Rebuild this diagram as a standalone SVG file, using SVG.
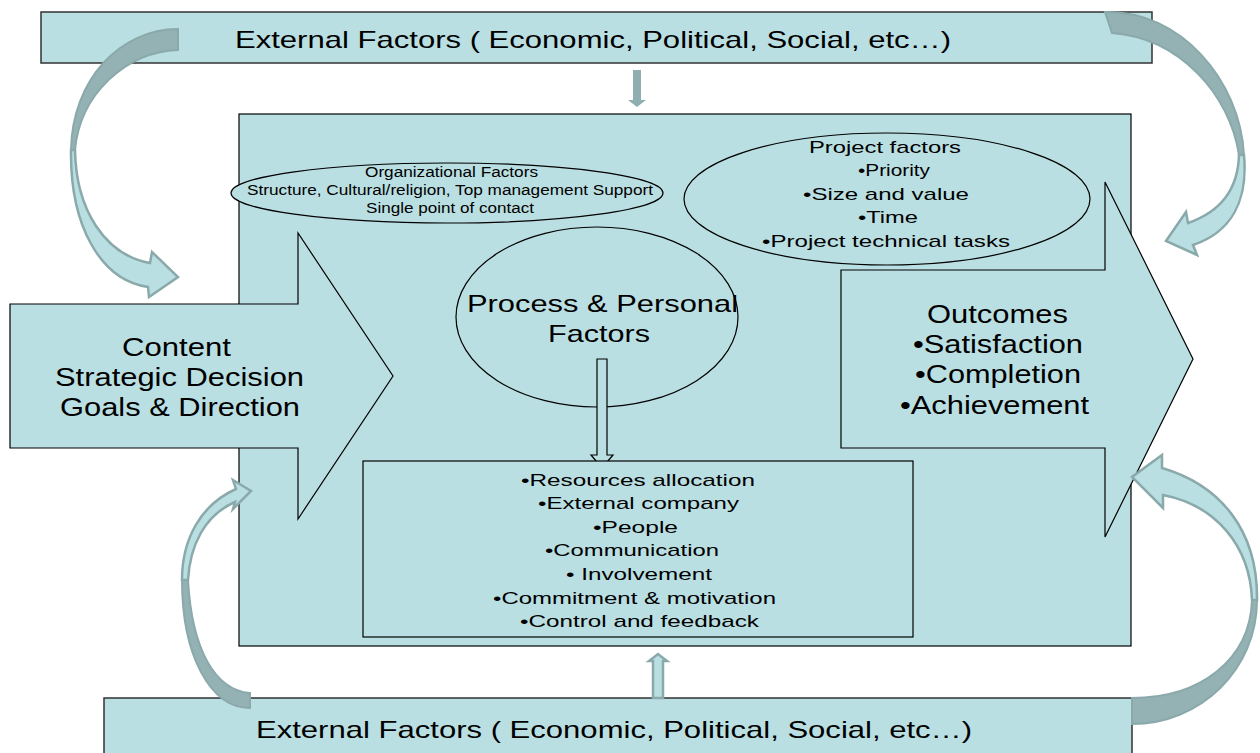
<svg xmlns="http://www.w3.org/2000/svg" width="1260" height="753" viewBox="0 0 1260 753">
<style>
.box{fill:#badfe2;stroke:#000;stroke-width:1.2}
.ext{fill:#badfe2;stroke:#333;stroke-width:1.5}
.t{font-family:"Liberation Sans",Arial,sans-serif;fill:#000}
.cdark{fill:#94b1b3;stroke:#8aa9ab;stroke-width:2}
.clight{fill:#badfe2;stroke:#8aa9ab;stroke-width:2.5;stroke-linejoin:miter}
</style>
<rect width="1260" height="753" fill="#fff"/>
<g id="external-top">
<rect class="ext" x="41" y="12" width="1111" height="51"/>
<text class="t" x="235" y="48" font-size="24" textLength="716" lengthAdjust="spacingAndGlyphs">External Factors ( Economic, Political, Social, etc…)</text>
</g>
<g id="external-bottom">
<rect class="ext" x="104" y="698" width="1028" height="70"/>
<text class="t" x="256" y="738" font-size="24" textLength="716" lengthAdjust="spacingAndGlyphs">External Factors ( Economic, Political, Social, etc…)</text>
</g>
<g id="main-box">
<rect class="box" x="239" y="114" width="892" height="532"/>
</g>
<g id="organizational-factors">
<ellipse class="box" cx="447" cy="193" rx="216" ry="30"/>
<text class="t" x="365" y="177" font-size="14" textLength="173" lengthAdjust="spacingAndGlyphs">Organizational Factors</text>
<text class="t" x="247" y="195" font-size="14" textLength="406" lengthAdjust="spacingAndGlyphs">Structure, Cultural/religion, Top management Support</text>
<text class="t" x="366" y="213" font-size="14" textLength="168" lengthAdjust="spacingAndGlyphs">Single point of contact</text>
</g>
<g id="project-factors">
<ellipse class="box" cx="887" cy="199" rx="203" ry="66"/>
<text class="t" x="809" y="153" font-size="17" textLength="152" lengthAdjust="spacingAndGlyphs">Project factors</text>
<text class="t" x="858" y="176" font-size="17" textLength="72" lengthAdjust="spacingAndGlyphs">•Priority</text>
<text class="t" x="803" y="200" font-size="17" textLength="166" lengthAdjust="spacingAndGlyphs">•Size and value</text>
<text class="t" x="858" y="223" font-size="17" textLength="60" lengthAdjust="spacingAndGlyphs">•Time</text>
<text class="t" x="762" y="247" font-size="17" textLength="248" lengthAdjust="spacingAndGlyphs">•Project technical tasks</text>
</g>
<g id="content">
<polygon class="box" points="10,304 298,304 298,233 393,376 298,519 298,448 10,448"/>
<text class="t" x="122" y="356" font-size="25" textLength="109" lengthAdjust="spacingAndGlyphs">Content</text>
<text class="t" x="55" y="386" font-size="25" textLength="249" lengthAdjust="spacingAndGlyphs">Strategic Decision</text>
<text class="t" x="60" y="416" font-size="25" textLength="240" lengthAdjust="spacingAndGlyphs">Goals &amp; Direction</text>
</g>
<g id="outcomes">
<polygon class="box" points="841,270 1105,270 1105,182 1193,359 1105,537 1105,448 841,448"/>
<text class="t" x="927" y="323" font-size="25" textLength="141" lengthAdjust="spacingAndGlyphs">Outcomes</text>
<text class="t" x="913" y="353" font-size="25" textLength="170" lengthAdjust="spacingAndGlyphs">•Satisfaction</text>
<text class="t" x="915" y="383" font-size="25" textLength="166" lengthAdjust="spacingAndGlyphs">•Completion</text>
<text class="t" x="900" y="414" font-size="25" textLength="189" lengthAdjust="spacingAndGlyphs">•Achievement</text>
</g>
<g id="process-personal">
<ellipse class="box" cx="597" cy="317" rx="141" ry="90"/>
<text class="t" x="467" y="312" font-size="24" textLength="271" lengthAdjust="spacingAndGlyphs">Process &amp; Personal</text>
<text class="t" x="548" y="342" font-size="24" textLength="102" lengthAdjust="spacingAndGlyphs">Factors</text>
</g>
<g id="connectors">
<polygon class="box" points="597,359 607,359 607,455 613,455 602,468 591,455 597,455"/>
<polygon fill="#8eaeb0" points="633,70 641,70 641,100 646,100 637,107 628,100 633,100"/>
<polygon fill="#badfe2" stroke="#8aa9ab" stroke-width="2.5" points="653,698 653,661 649,661 658,654 667,661 663,661 663,698"/>
<path class="cdark" d="M178,29 C120,29 72,80 71,150 L75,150 C80,95 125,52 178,50 Z"/>
<path class="clight" d="M75,150 C76,210 105,255 150,263 L152,252 L178,277 L149,297 L148,287 C100,280 70,225 71,150 Z"/>
<path class="cdark" d="M1105,12 C1180,10 1240,80 1244,155 L1239,155 C1230,95 1180,38 1112,33 Z"/>
<path class="clight" d="M1239,155 C1238,190 1220,212 1188,223 L1186,212 L1166,241 L1197,255 L1193,245 C1232,232 1248,200 1244,155 Z"/>
<path class="cdark" d="M250,693 C215,690 192,650 188,580 L182,580 C182,655 210,708 250,708 Z"/>
<path class="clight" d="M182,580 C182,540 200,505 236,489 L233,480 L251,491 L233,509 L235,502 C205,515 190,545 188,580 Z"/>
<path class="clight" d="M1162,468 C1220,485 1258,530 1257,600 L1252,600 C1250,545 1215,505 1163,495 L1163,508 L1132,477 L1162,455 Z"/>
<path class="cdark" d="M1257,600 C1257,670 1200,724 1132,724 L1132,698 C1200,698 1250,660 1252,600 Z"/>
</g>
<g id="process-details">
<rect class="box" x="363" y="461" width="550" height="176"/>
<text class="t" x="521" y="486" font-size="17" textLength="234" lengthAdjust="spacingAndGlyphs">•Resources allocation</text>
<text class="t" x="538" y="509" font-size="17" textLength="201" lengthAdjust="spacingAndGlyphs">•External company</text>
<text class="t" x="593" y="533" font-size="17" textLength="85" lengthAdjust="spacingAndGlyphs">•People</text>
<text class="t" x="545" y="556" font-size="17" textLength="174" lengthAdjust="spacingAndGlyphs">•Communication</text>
<text class="t" x="566" y="580" font-size="17" textLength="146" lengthAdjust="spacingAndGlyphs">• Involvement</text>
<text class="t" x="493" y="604" font-size="17" textLength="283" lengthAdjust="spacingAndGlyphs">•Commitment &amp; motivation</text>
<text class="t" x="520" y="627" font-size="17" textLength="239" lengthAdjust="spacingAndGlyphs">•Control and feedback</text>
</g>
</svg>
